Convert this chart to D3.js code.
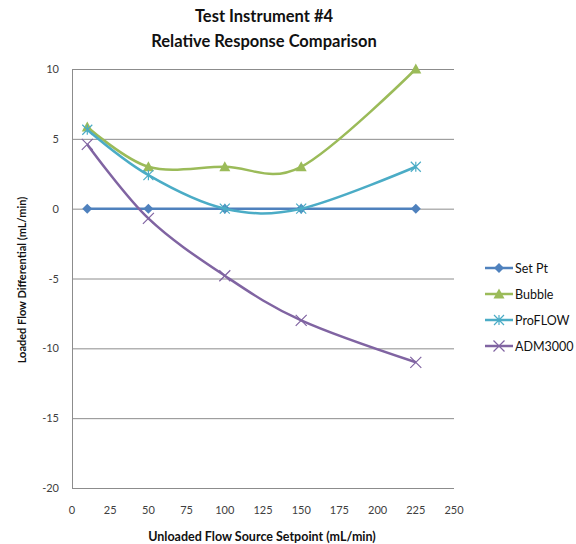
<!DOCTYPE html>
<html><head><meta charset="utf-8">
<script src="https://cdn.jsdelivr.net/npm/d3@7"></script>
<style>body{margin:0;background:#fff}svg{display:block}text{font-family:Lato,"Open Sans",sans-serif}</style>
</head><body>
<svg id="c" width="576" height="544"></svg>
<script>
const xValues = [10, 50, 100, 150, 225];
const setPt   = [0, 0, 0, 0, 0];
const bubble  = [5.85, 3.0, 3.0, 3.0, 10.0];
const proflow = [5.65, 2.4, 0, 0, 3.0];
const adm3000 = [4.6, -0.7, -4.8, -8.0, -11.0];
const seriesNames = ["Set Pt", "Bubble", "ProFLOW", "ADM3000"];
const xTicks = [0, 25, 50, 75, 100, 125, 150, 175, 200, 225, 250];
const yTicks = [-20, -15, -10, -5, 0, 5, 10];

const series = [
  {name: seriesNames[0], values: setPt,   color: "#4F81BD", marker: "diamond"},
  {name: seriesNames[1], values: bubble,  color: "#9BBB59", marker: "triangle"},
  {name: seriesNames[2], values: proflow, color: "#4BACC6", marker: "star"},
  {name: seriesNames[3], values: adm3000, color: "#8064A2", marker: "x"}
];

const svg = d3.select("#c");
const L = 72, R = 454, T = 69, B = 488;
const x = d3.scaleLinear().domain([0, 250]).range([L, R]);
const y = d3.scaleLinear().domain([-20, 10]).range([B, T]);

// gridlines
svg.append("g").selectAll("line").data(yTicks).join("line")
  .attr("x1", L).attr("x2", R).attr("y1", d => y(d) + 0.5).attr("y2", d => y(d) + 0.5)
  .attr("stroke", "#8c8c8c").attr("stroke-width", 1);
// left axis line
svg.append("line").attr("x1", L + 0.5).attr("x2", L + 0.5).attr("y1", T).attr("y2", B + 1)
  .attr("stroke", "#8c8c8c");

// tick labels
svg.append("g").selectAll("text").data(yTicks).join("text")
  .attr("x", 59).attr("y", d => y(d) + 4).attr("text-anchor", "end")
  .attr("font-size", 11).attr("fill", "#404040").text(d => d);
svg.append("g").selectAll("text").data(xTicks).join("text")
  .attr("x", d => x(d)).attr("y", 514).attr("text-anchor", "middle")
  .attr("font-size", 11).attr("fill", "#404040").text(d => d);

// titles
svg.append("text").attr("x", 264).attr("y", 22).attr("text-anchor", "middle")
  .attr("font-size", 16.5).attr("font-weight", "bold").attr("fill", "#111").text("Test Instrument #4");
svg.append("text").attr("x", 264).attr("y", 47).attr("text-anchor", "middle")
  .attr("font-size", 16.5).attr("font-weight", "bold").attr("fill", "#111").text("Relative Response Comparison");
svg.append("text").attr("x", 262).attr("y", 541).attr("text-anchor", "middle")
  .attr("font-size", 12.5).attr("font-weight", "bold").attr("fill", "#111").text("Unloaded Flow Source Setpoint (mL/min)");
svg.append("text").attr("transform", "translate(26,280) rotate(-90)")
  .attr("text-anchor", "middle").attr("font-size", 11).attr("font-weight", "bold").attr("fill", "#111")
  .text("Loaded Flow Differential (mL/min)");

const line = d3.line().x(d => x(d[0])).y(d => y(d[1])).curve(d3.curveCardinal.tension(0));

function drawMarker(g, type, cx, cy, color) {
  if (type === "diamond") {
    g.append("path").attr("d", `M${cx},${cy-5}L${cx+5},${cy}L${cx},${cy+5}L${cx-5},${cy}Z`).attr("fill", color);
  } else if (type === "triangle") {
    g.append("path").attr("d", `M${cx},${cy-5.5}L${cx+5.5},${cy+4.5}L${cx-5.5},${cy+4.5}Z`).attr("fill", color);
  } else if (type === "star") {
    const s = 5;
    g.append("path").attr("d", `M${cx-s},${cy-s}L${cx+s},${cy+s}M${cx-s},${cy+s}L${cx+s},${cy-s}M${cx},${cy-s}L${cx},${cy+s}`)
      .attr("stroke", color).attr("stroke-width", 1.2).attr("fill", "none");
  } else {
    const s = 5.5;
    g.append("path").attr("d", `M${cx-s},${cy-s}L${cx+s},${cy+s}M${cx-s},${cy+s}L${cx+s},${cy-s}`)
      .attr("stroke", color).attr("stroke-width", 1.2).attr("fill", "none");
  }
}

series.forEach(s => {
  const pts = xValues.map((v, i) => [v, s.values[i]]);
  const g = svg.append("g");
  g.append("path").datum(pts).attr("d", line).attr("fill", "none")
    .attr("stroke", s.color).attr("stroke-width", 2.5);
  pts.forEach(p => drawMarker(g, s.marker, x(p[0]), y(p[1]), s.color));
});

// legend
const lg = svg.append("g");
series.forEach((s, i) => {
  const ly = 268 + i * 26;
  lg.append("line").attr("x1", 485).attr("x2", 513).attr("y1", ly).attr("y2", ly)
    .attr("stroke", s.color).attr("stroke-width", 2.5);
  drawMarker(lg, s.marker, 499, ly, s.color);
  lg.append("text").attr("x", 515).attr("y", ly + 4.5).attr("font-size", 12.5).attr("fill", "#111").text(s.name);
});
</script>
</body></html>
